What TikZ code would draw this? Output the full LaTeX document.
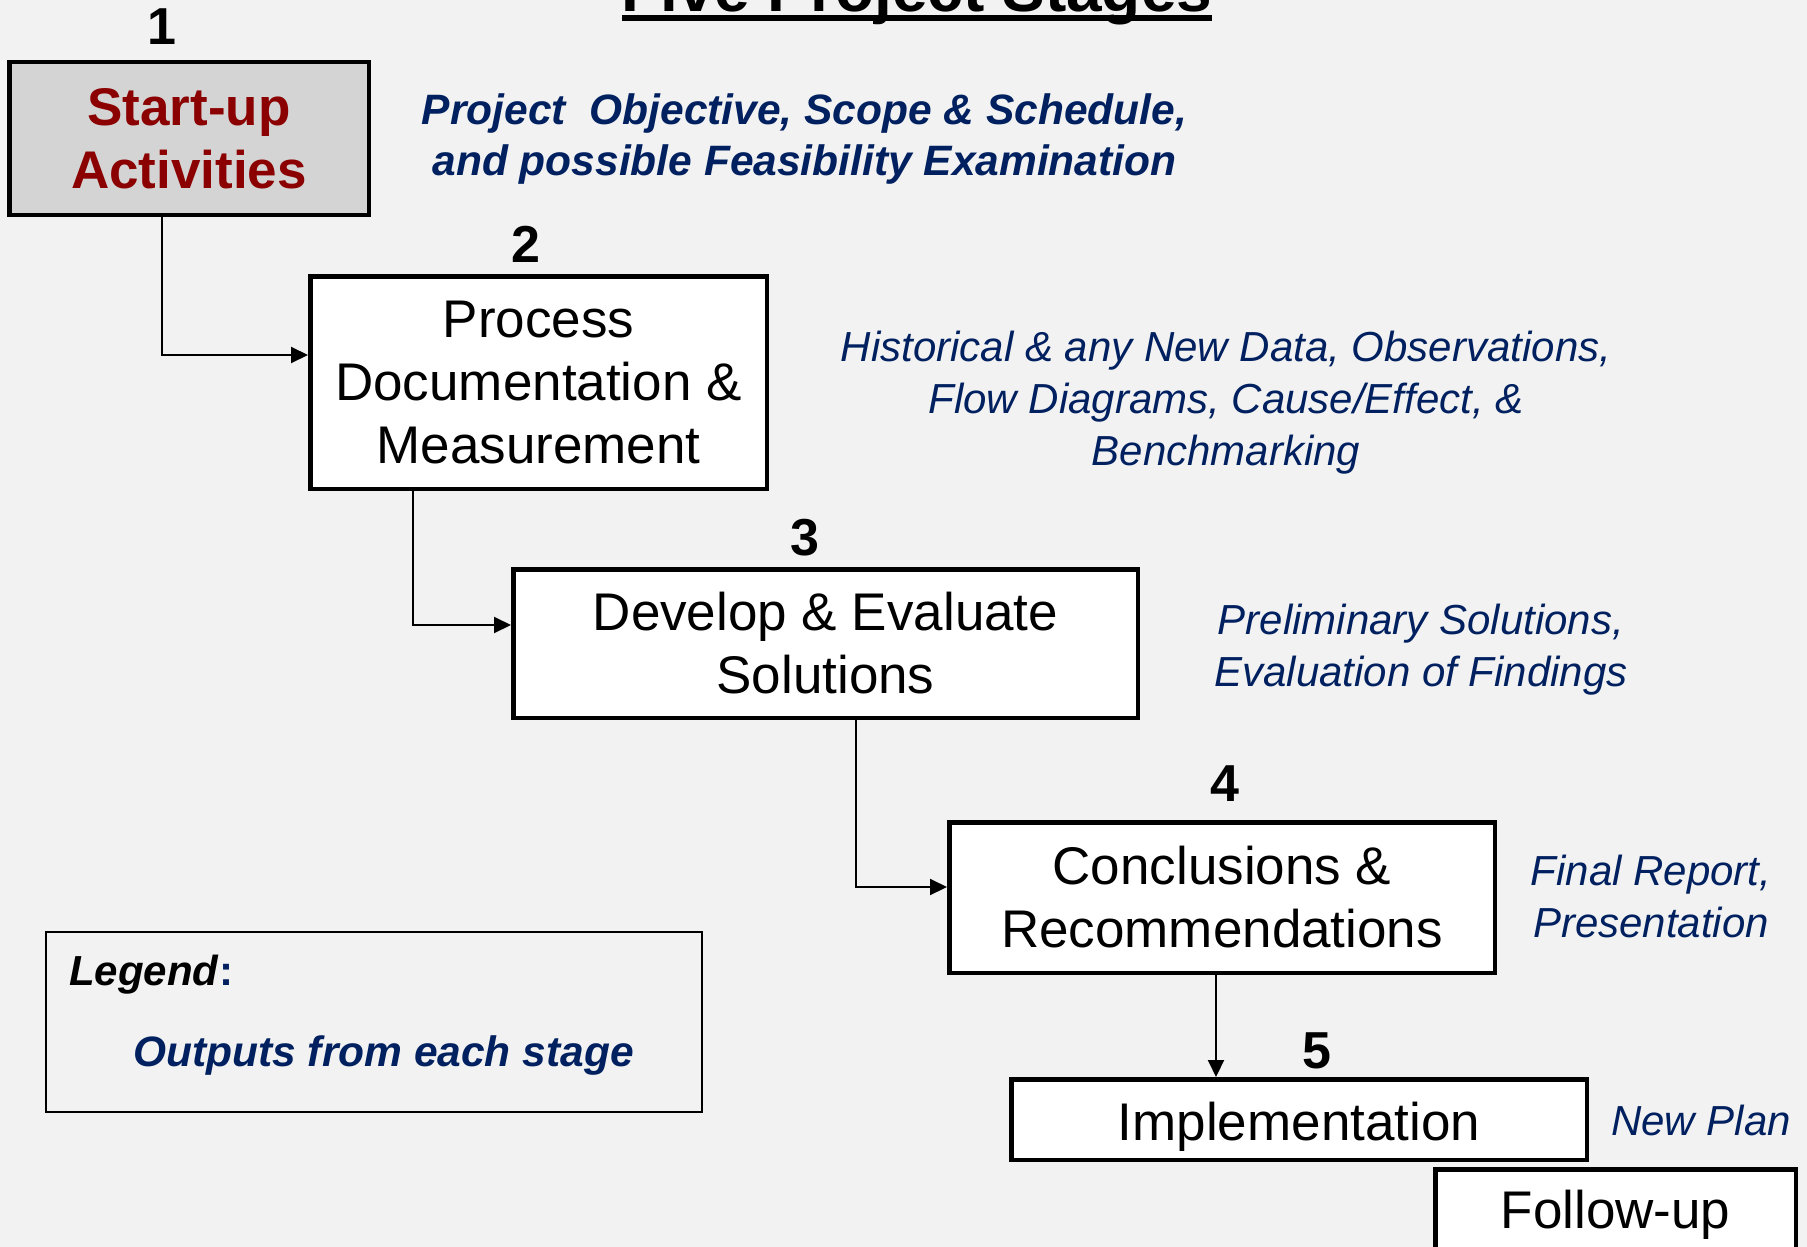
\documentclass[tikz,border=0pt]{standalone}
\usepackage{fontspec}
\setmainfont{Liberation Sans}
\usetikzlibrary{arrows.meta}
\definecolor{bg}{HTML}{F2F2F2}
\definecolor{navy}{HTML}{002060}
\definecolor{dred}{HTML}{8B0000}
\definecolor{boxgray}{HTML}{D4D4D4}
\begin{document}
\begin{tikzpicture}[x=1pt,y=-1pt,
  stagebox/.style={draw=black,line width=4.5pt,fill=white,align=center,inner sep=0pt,font=\fontsize{53}{63}\selectfont},
  stagenum/.style={font=\fontsize{52}{60}\selectfont\bfseries,inner sep=0pt},
  outtext/.style={font=\fontsize{42}{52}\selectfont\itshape,text=navy,align=center,inner sep=0pt},
  conn/.style={line width=2pt,-{Triangle[length=17pt,width=16pt]}}]
\fill[bg] (0,0) rectangle (1807,1247);
\useasboundingbox (0,0) rectangle (1807,1247);
% title (mostly cut off at the top)
\node[anchor=base,font=\fontsize{64}{70}\selectfont\bfseries,inner sep=0pt] (title) at (917,12) {Five Project Stages};
\fill (622,15) rectangle (1212,21);
% stages
\node[stagebox,fill=boxgray,text=dred,font=\fontsize{53}{63}\selectfont\bfseries,minimum width=359.5pt,minimum height=152.5pt] (s1) at (189,138.5) {Start-up\\Activities};
\node[stagebox,minimum width=456.5pt,minimum height=212.5pt] (s2) at (538.5,382.5) {Process\\Documentation \&\\Measurement};
\node[stagebox,minimum width=624.5pt,minimum height=148.5pt] (s3) at (825.5,643.5) {Develop \& Evaluate\\Solutions};
\node[stagebox,minimum width=545.5pt,minimum height=150.5pt] (s4) at (1222,897.5) {Conclusions \&\\Recommendations};
\node[stagebox,minimum width=575.5pt,minimum height=80.5pt] (s5) at (1299,1119.5) {\raisebox{-20.5pt}[0pt][0pt]{Implementation}};
\node[stagebox,minimum width=360.5pt,minimum height=80.5pt] (s6) at (1615.5,1209.5) {\raisebox{-18.5pt}[0pt][0pt]{Follow-up}};
% numbers
\node[stagenum] (n1) at (162,26.5) {1};
\node[stagenum] (n2) at (526,244) {2};
\node[stagenum] (n3) at (805,538) {3};
\node[stagenum] (n4) at (1225,784) {4};
\node[stagenum] (n5) at (1317,1051) {5};
% outputs
\node[outtext,font=\fontsize{42.5}{51}\selectfont\bfseries\itshape] (o1) at (804.5,139.5) {Project\ \ Objective, Scope \& Schedule,\\and possible Feasibility Examination};
\node[outtext] (o2) at (1226,402.5) {Historical \& any New Data, Observations,\\Flow Diagrams, Cause/Effect, \&\\Benchmarking};
\node[outtext] (o3) at (1421,649.5) {Preliminary Solutions,\\Evaluation of Findings};
\node[outtext] (o4) at (1651,896) {Final Report,\\Presentation};
\node[outtext] (o5) at (1701,1120) {New Plan};
% connectors
\draw[conn] ([xshift=-27pt]s1.south) |- ([yshift=27.5pt]s2.west);
\draw[conn] ([xshift=-125.5pt]s2.south) |- ([yshift=18.5pt]s3.west);
\draw[conn] ([xshift=30.5pt]s3.south) |- ([yshift=10.5pt]s4.west);
\draw[conn] ([xshift=-6pt]s4.south) -- ([xshift=-6pt]s4.south |- s5.north);
% legend
\node[draw,line width=2pt,minimum width=656pt,minimum height=180pt,inner sep=0pt] (legend) at (374,1022) {};
\node[anchor=west,inner sep=0pt,font=\fontsize{42}{52}\selectfont\bfseries] (legtitle) at (69,975) {\textit{Legend}\textcolor{navy}{:}};
\node[outtext,font=\fontsize{42.5}{52}\selectfont\bfseries\itshape] (legout) at (383.5,1055) {Outputs from each stage};
\end{tikzpicture}
\end{document}
